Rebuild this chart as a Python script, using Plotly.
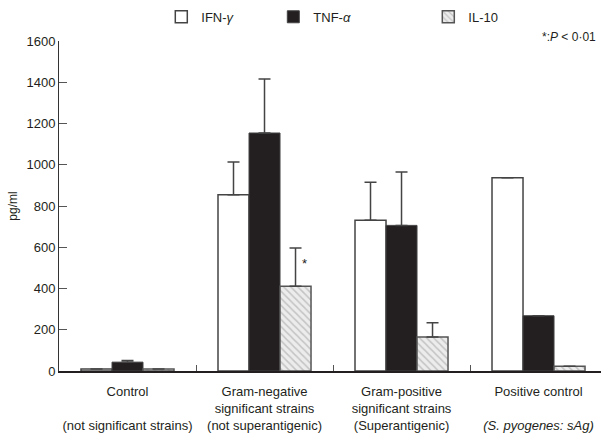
import plotly.graph_objects as go

categories = [0, 1, 2, 3]
category_labels = [
    "Control<br> <br>(not significant strains)",
    "Gram-negative<br>significant strains<br>(not superantigenic)",
    "Gram-positive<br>significant strains<br>(Superantigenic)",
    "Positive control<br> <br><i>(S. pyogenes: sAg)</i>",
]
series_names = ["IFN-<i>γ</i>", "TNF-<i>α</i>", "IL-10"]
ifn_values = [10, 855, 731, 937]
ifn_errors = [0, 158, 184, 0]
tnf_values = [43, 1154, 706, 268]
tnf_errors = [8, 262, 259, 0]
il10_values = [10, 411, 165, 23]
il10_errors = [0, 185, 69, 0]
y_ticks = [0, 200, 400, 600, 800, 1000, 1200, 1400, 1600]

FONT = "Liberation Sans, Arial, Helvetica, sans-serif"
DARK = "#231f20"

L, R, T, B = 59, 0, 40.5, 58
PW, PH = 601 - L - R, 433 - T - B

fig = go.Figure()

def err(vals):
    return dict(type="data", symmetric=False, array=vals, arrayminus=[0] * len(vals),
                color="#444", thickness=1.5, width=6)

fig.add_trace(go.Bar(
    x=categories, y=ifn_values, name=series_names[0], legend="legend",
    marker=dict(color="white", line=dict(color="#444", width=1.5)),
    error_y=err(ifn_errors),
))
fig.add_trace(go.Bar(
    x=categories, y=tnf_values, name=series_names[1], legend="legend2",
    marker=dict(color=DARK, line=dict(color="#444", width=1)),
    error_y=err(tnf_errors),
))
fig.add_trace(go.Bar(
    x=categories, y=il10_values, name=series_names[2], legend="legend3",
    marker=dict(color="#e4e4e4", line=dict(color="#555", width=1.5),
                pattern=dict(shape="\\", fgcolor="#9a9a9a", bgcolor="#ececec",
                             size=5, solidity=0.3)),
    error_y=err(il10_errors),
))

fig.add_annotation(x=1.29, y=520, text="*", showarrow=False, xref="x", yref="y",
                   font=dict(family=FONT, size=13, color=DARK))
fig.add_annotation(x=0.995, y=1.0 + (T - 36) / PH, xref="paper", yref="paper",
                   text="*:<i>P</i> < 0·01", showarrow=False, xanchor="right",
                   yanchor="middle", font=dict(family=FONT, size=12, color=DARK))

legend_common = dict(orientation="h", yanchor="middle", y=1.0 + (T - 16) / PH,
                     bgcolor="rgba(0,0,0,0)", font=dict(family=FONT, size=13, color=DARK),
                     xanchor="left")

def lx(px):
    return (px - 14.7 - L) / PW

fig.update_layout(
    width=601, height=433,
    margin=dict(l=L, r=R, t=T, b=B),
    paper_bgcolor="white", plot_bgcolor="white",
    barmode="group", bargap=0.321, bargroupgap=0,
    showlegend=True,
    font=dict(family=FONT, size=13, color=DARK),
    legend=dict(x=lx(176), **legend_common),
    legend2=dict(x=lx(288), **legend_common),
    legend3=dict(x=lx(443), **legend_common),
    xaxis=dict(
        range=[-0.5, 3.456], tickvals=categories, ticktext=category_labels,
        ticks="", showline=True, linecolor=DARK, linewidth=1.5, showgrid=False,
        zeroline=False, tickfont=dict(family=FONT, size=13, color=DARK),
        ticklabelstandoff=8,
        minor=dict(tickvals=[0.5, 1.5, 2.5], ticks="inside", ticklen=6,
                   tickcolor="#555", tickwidth=1),
    ),
    yaxis=dict(
        range=[0, 1600], tickvals=y_ticks, ticks="inside", ticklen=8,
        tickcolor="#555", showline=True, linecolor="#333", linewidth=1,
        showgrid=False, zeroline=False,
        tickfont=dict(family=FONT, size=13, color=DARK),
        title=dict(text="pg/ml", font=dict(family=FONT, size=12, color=DARK), standoff=6),
    ),
)

fig.write_html("out.html", config={"displayModeBar": False},
               post_script="document.body.style.margin='0';")
